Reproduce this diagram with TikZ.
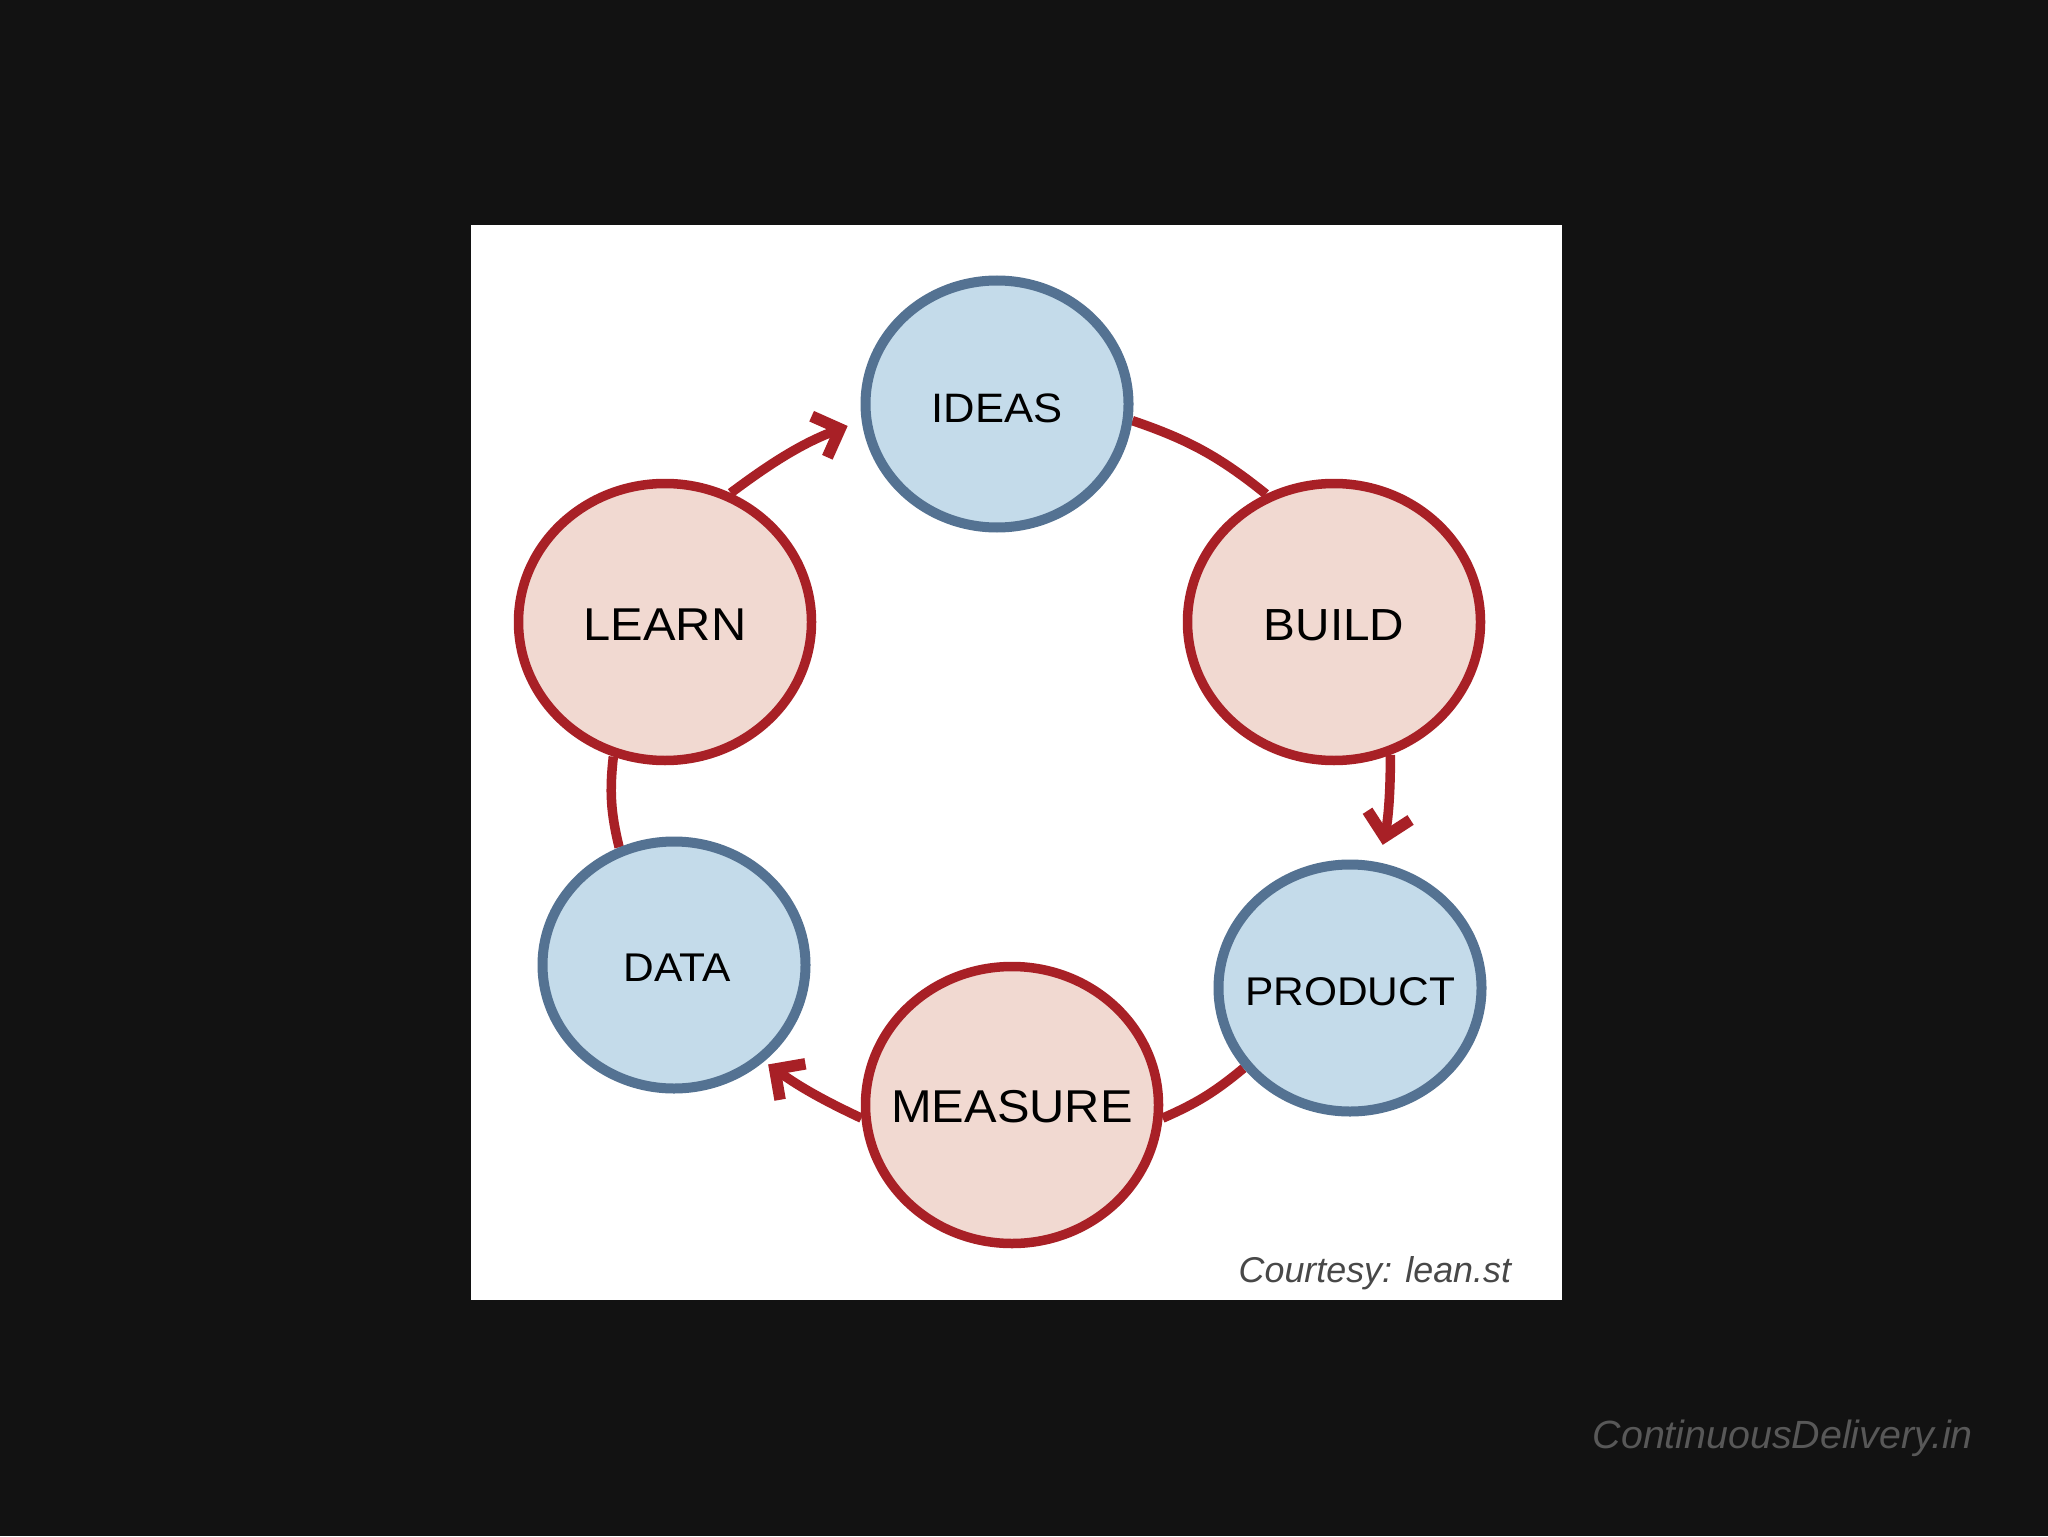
\documentclass[tikz,border=0pt]{standalone}
\usepackage{fontspec}
\setmainfont{Liberation Sans}
\usepackage{graphicx}
\usetikzlibrary{arrows.meta,shapes.geometric}
\definecolor{bgdark}{RGB}{18,18,18}
\definecolor{redline}{RGB}{168,32,38}
\definecolor{pinkfill}{RGB}{241,217,209}
\definecolor{bluefill}{RGB}{196,219,234}
\definecolor{blueline}{RGB}{84,114,146}
\definecolor{courtesygray}{RGB}{72,72,72}
\definecolor{wmgray}{RGB}{88,88,88}
\pgfdeclarelayer{bgl}
\pgfdeclarelayer{back}
\pgfsetlayers{bgl,back,main}
\begin{document}
\begin{tikzpicture}[x=0.1mm,y=0.1mm,
  bluenode/.style={ellipse, draw=blueline, fill=bluefill, line width=1mm,
    minimum width=26.3mm, minimum height=24.7mm, inner sep=0pt},
  rednode/.style={ellipse, draw=redline, fill=pinkfill, line width=0.95mm,
    minimum width=29.3mm, minimum height=27.7mm, inner sep=0pt},
  conn/.style={draw=redline, line width=0.95mm},
  tipped/.style={-{Straight Barb[length=2.2mm,width=4.4mm,line width=1.15mm]}},
  lbl/.style={text=black, inner sep=0pt}
]
\useasboundingbox (0,0) rectangle (2048,1536);
\begin{pgfonlayer}{bgl}
\fill[bgdark] (0,0) rectangle (2048,1536);
\fill[white] (471,236) rectangle (1562,1311);
\end{pgfonlayer}

\node[bluenode] (ideas) at (997,1132) {};
\node[rednode] (build) at (1334,914) {};
\node[bluenode] (product) at (1350,548) {};
\node[rednode] (measure) at (1012,431) {};
\node[bluenode] (data) at (674,571) {};
\node[rednode] (learn) at (665,914) {};

\node[lbl, font=\fontsize{11.7}{12}\selectfont] (ideast) at ([yshift=-0.4mm]ideas.center) {\scalebox{1.06}[1]{IDEAS}};
\node[lbl, font=\fontsize{12.8}{14}\selectfont] (buildt) at ([yshift=-0.35mm]build.center) {\scalebox{1.06}[1]{BUILD}};
\node[lbl, font=\fontsize{11.4}{12}\selectfont] (productt) at ([yshift=-0.4mm]product.center) {\scalebox{1.06}[1]{PRODUCT}};
\node[lbl, font=\fontsize{13.1}{14}\selectfont] (measuret) at ([yshift=-0.15mm]measure.center) {\scalebox{1.06}[1]{MEASURE}};
\node[lbl, font=\fontsize{11.4}{12}\selectfont] (datat) at ([yshift=-0.3mm,xshift=0.3mm]data.center) {\scalebox{1.06}[1]{DATA}};
\node[lbl, font=\fontsize{13.1}{14}\selectfont] (learnt) at ([yshift=-0.25mm]learn.center) {\scalebox{1.06}[1]{LEARN}};

\begin{pgfonlayer}{back}
\draw[conn] (ideas.-7) to[bend left=10] (build.118);
\draw[conn,tipped,shorten >=1.8mm] (build.-67) to[bend left=6] (product.77);
\draw[conn] (product.217) to[bend left=8] (measure.-5);
\draw[conn,tipped,shorten >=0.5mm] (measure.185) to[bend left=5] (data.-47);
\draw[conn] (data.115) to[bend left=10] (learn.249);
\draw[conn,tipped,shorten >=1.5mm] (learn.63) to[bend left=8] (ideas.187);
\end{pgfonlayer}

\node[anchor=base west, text=courtesygray, inner sep=0pt,
  font=\itshape\fontsize{10.2}{12}\selectfont] (courtesy) at (1238,254) {Courtesy: lean.st};
\node[anchor=base west, text=wmgray, inner sep=0pt,
  font=\itshape\fontsize{11.2}{12}\selectfont] (wm) at (1592,88) {ContinuousDelivery.in};
\end{tikzpicture}
\end{document}
